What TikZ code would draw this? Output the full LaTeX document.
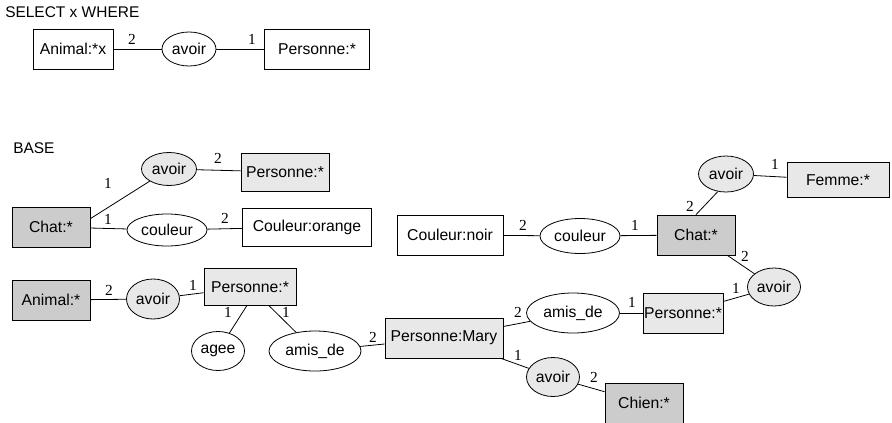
\documentclass[tikz,border=0pt]{standalone}
\usepackage{fontspec}
\setmainfont{Liberation Sans}
\newfontfamily\numfont{Liberation Serif}
\usetikzlibrary{shapes.geometric}
\tikzset{
  base/.style={draw=black, line width=0.6pt, inner sep=0pt, font=\fontsize{11.8}{13}\selectfont},
  wbox/.style={base, rectangle, fill=white},
  dbox/.style={base, rectangle, fill=black!20},
  lbox/.style={base, rectangle, fill=black!9},
  well/.style={base, ellipse, fill=white},
  lell/.style={base, ellipse, fill=black!9},
  lab/.style={inner sep=0pt, font=\numfont\fontsize{11.5}{13}\selectfont},
  ttl/.style={inner sep=0pt, anchor=west, font=\fontsize{11.6}{13}\selectfont},
  con/.style={line width=0.6pt}
}
\begin{document}
\begin{tikzpicture}[x=0.75pt, y=-0.75pt]
\useasboundingbox (0,0) rectangle (892,422);
% query
\node[ttl] (sel) at (5,12) {SELECT x WHERE};
\node[wbox, minimum width=80*0.75pt, minimum height=40*0.75pt] (qa) at (73,49) {Animal:*x};
\node[well, minimum width=54*0.75pt, minimum height=34*0.75pt] (qv) at (189,49) {avoir};
\node[wbox, minimum width=105*0.75pt, minimum height=40*0.75pt] (qp) at (317,49) {Personne:*};
\draw[con] (qa) -- (qv);
\draw[con] (qv) -- (qp);
\node[lab] at (132,39) {2};
\node[lab] at (252,39) {1};
% base
\node[ttl] (bas) at (13,148) {BASE};
% cluster 1
\node[dbox, minimum width=78*0.75pt, minimum height=40*0.75pt] (c1) at (51,227) {Chat:*};
\node[lell, minimum width=55*0.75pt, minimum height=33*0.75pt] (c1v) at (169,169) {avoir};
\node[lbox, minimum width=88*0.75pt, minimum height=38*0.75pt] (c1p) at (285,172) {Personne:*};
\node[well, minimum width=80*0.75pt, minimum height=32*0.75pt] (c1c) at (167,230) {couleur};
\node[wbox, minimum width=129*0.75pt, minimum height=38*0.75pt] (c1o) at (307,227) {Couleur:orange};
\draw[con] (c1.12) -- (c1v);
\draw[con] (c1v) -- (c1p);
\draw[con] (c1) -- (c1c);
\draw[con] (c1c) -- (c1o);
\node[lab] at (108,183) {1};
\node[lab] at (108,219) {1};
\node[lab] at (218,158) {2};
\node[lab] at (225,218) {2};
% cluster 2
\node[dbox, minimum width=78*0.75pt, minimum height=40*0.75pt] (an) at (51,300) {Animal:*};
\node[lell, minimum width=53*0.75pt, minimum height=40*0.75pt] (anv) at (153,299) {avoir};
\node[lbox, minimum width=92*0.75pt, minimum height=37*0.75pt] (p1) at (250,287) {Personne:*};
\node[well, minimum width=53*0.75pt, minimum height=39*0.75pt] (ag) at (218,351) {agee};
\node[well, minimum width=92*0.75pt, minimum height=40*0.75pt] (am1) at (315,351) {amis\_de};
\node[lbox, minimum width=118*0.75pt, minimum height=40*0.75pt] (pm) at (444,338) {Personne:Mary};
\node[well, minimum width=93*0.75pt, minimum height=40*0.75pt] (am2) at (573,313) {amis\_de};
\node[lbox, minimum width=80*0.75pt, minimum height=40*0.75pt] (p2) at (683,313) {Personne:*};
\node[lell, minimum width=53*0.75pt, minimum height=39*0.75pt] (pv) at (553,377) {avoir};
\node[dbox, minimum width=78*0.75pt, minimum height=40*0.75pt] (ch) at (644,403) {Chien:*};
\node[lell, minimum width=53*0.75pt, minimum height=38*0.75pt] (p2v) at (774,287) {avoir};
\node[dbox, minimum width=78*0.75pt, minimum height=40*0.75pt] (c2) at (696,235) {Chat:*};
\node[lell, minimum width=55*0.75pt, minimum height=36*0.75pt] (c2v) at (726,174) {avoir};
\node[lbox, minimum width=102*0.75pt, minimum height=35*0.75pt] (fe) at (838,180) {Femme:*};
\node[well, minimum width=80*0.75pt, minimum height=35*0.75pt] (c2c) at (580,236) {couleur};
\node[wbox, minimum width=106*0.75pt, minimum height=40*0.75pt] (cn) at (450,235) {Couleur:noir};
\draw[con] (an) -- (anv);
\draw[con] (anv) -- (p1);
\draw[con] (p1.-100) -- (ag);
\draw[con] (p1) -- (am1);
\draw[con] (am1) -- (pm);
\draw[con] (pm) -- (am2);
\draw[con] (am2) -- (p2);
\draw[con] (pm) -- (pv);
\draw[con] (pv) -- (ch);
\draw[con] (p2) -- (p2v);
\draw[con] ([xshift=-8*0.75pt]c2.south east) -- (p2v);
\draw[con] (c2.north) -- (c2v.-115);
\draw[con] (c2v) -- (fe);
\draw[con] (cn) -- (c2c);
\draw[con] (c2c) -- (c2);
\node[lab] at (109,290) {2};
\node[lab] at (193,285) {1};
\node[lab] at (228,312) {1};
\node[lab] at (286,312) {1};
\node[lab] at (373,337) {2};
\node[lab] at (518,312) {2};
\node[lab] at (632,302) {1};
\node[lab] at (518,355) {1};
\node[lab] at (594,377) {2};
\node[lab] at (736,288) {1};
\node[lab] at (745,256) {2};
\node[lab] at (690,206) {2};
\node[lab] at (775,164) {1};
\node[lab] at (523,225) {2};
\node[lab] at (635,225) {1};
\end{tikzpicture}
\end{document}
